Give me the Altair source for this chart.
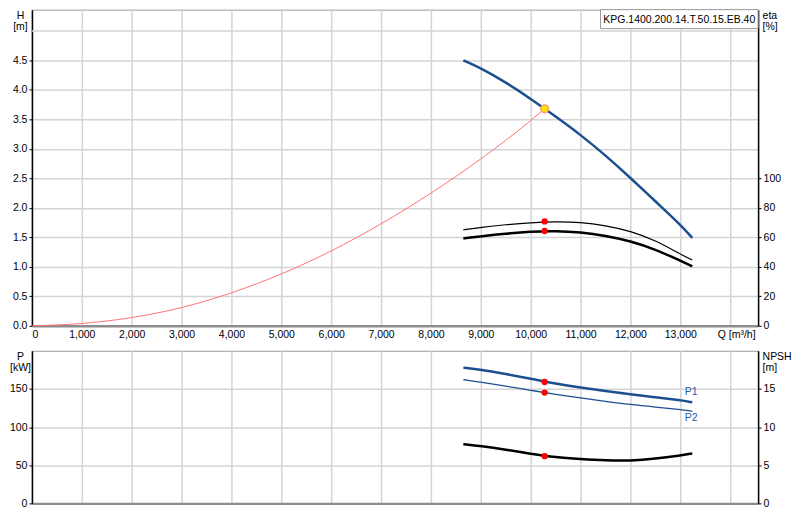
import altair as alt
import pandas as pd

# ---------------- data ----------------
Q_PUMP = [8650, 9000, 9500, 10000, 10500, 11000, 11500, 12000, 12500, 13000, 13240]
H_PUMP = [4.50, 4.37, 4.13, 3.85, 3.55, 3.24, 2.89, 2.51, 2.11, 1.72, 1.49]
ETA_1 = [65.1, 66.8, 68.6, 70.0, 70.7, 70.3, 68.0, 64.3, 58.0, 48.6, 44.6]
ETA_2 = [59.3, 60.7, 62.5, 63.9, 64.3, 63.5, 61.2, 57.5, 51.9, 44.2, 40.4]
P1 = [177.9, 175.3, 169.5, 163.5, 156.8, 151.7, 147.3, 143.0, 139.1, 135.1, 132.5]
P2 = [162.2, 159.0, 153.6, 148.2, 142.8, 138.2, 133.7, 129.5, 126.2, 123.0, 120.7]
NPSH = [7.76, 7.52, 7.05, 6.50, 6.02, 5.80, 5.62, 5.58, 5.84, 6.28, 6.54]

Q_SYS = [0, 1000, 2000, 3000, 4000, 5000, 6000, 7000, 8000, 9000, 10000, 10280]
H_SYS = [0.0, 0.04, 0.14, 0.31, 0.56, 0.88, 1.27, 1.73, 2.25, 2.83, 3.48, 3.68]

Q_DUTY = 10280
H_DUTY = 3.68
ETA_DUTY = [70.8, 64.3]
P_DUTY = [159.1, 145.2]
NPSH_DUTY = 6.19

Q_TICKS = list(range(0, 14001, 1000))
H_TICKS = [0.0, 0.5, 1.0, 1.5, 2.0, 2.5, 3.0, 3.5, 4.0, 4.5]
H_EXTRA_GRID = [5.0]
ETA_TICKS = [0, 20, 40, 60, 80, 100]
P_TICKS = [0, 50, 100, 150]
NPSH_TICKS = [0, 5, 10, 15]

MODEL = "KPG.1400.200.14.T.50.15.EB.40"
CURVE_LABELS = ["P1", "P2"]
Q_LABEL = "Q [m³/h]"

# ---------------- styling ----------------
FONT = "Liberation Sans"
FS = 10.5
BLUE = "#1b4f8f"
LBL_BLUE = "#1f5ca6"
GRID = "#d4d4d4"
W, H_TOP, H_BOT = 728, 317, 153
X_DOMAIN = [0, 14560]
H_MAX = H_TOP / 59.13
ETA_MAX = H_TOP / 1.4783
INTERP = "basis"

df_h = pd.DataFrame({"Q": Q_PUMP, "H": H_PUMP})
df_sys = pd.DataFrame({"Q": Q_SYS, "H": H_SYS})
df_hgrid = pd.DataFrame({"H": H_EXTRA_GRID})
df_hduty = pd.DataFrame({"Q": [Q_DUTY], "H": [H_DUTY]})
df_eta1 = pd.DataFrame({"Q": Q_PUMP, "eta": ETA_1})
df_eta2 = pd.DataFrame({"Q": Q_PUMP, "eta": ETA_2})
df_etaduty = pd.DataFrame({"Q": [Q_DUTY, Q_DUTY], "eta": ETA_DUTY})
df_p1 = pd.DataFrame({"Q": Q_PUMP, "P": P1})
df_p2 = pd.DataFrame({"Q": Q_PUMP, "P": P2})
df_pduty = pd.DataFrame({"Q": [Q_DUTY, Q_DUTY], "P": P_DUTY})
df_p1lbl = pd.DataFrame({"Q": [Q_PUMP[-1]], "P": [P1[-1]], "label": [CURVE_LABELS[0]]})
df_p2lbl = pd.DataFrame({"Q": [Q_PUMP[-1]], "P": [P2[-1]], "label": [CURVE_LABELS[1]]})
df_npsh = pd.DataFrame({"Q": Q_PUMP, "N": NPSH})
df_nduty = pd.DataFrame({"Q": [Q_DUTY], "N": [NPSH_DUTY]})
df_model = pd.DataFrame({"t": [MODEL]})

LABEL_EXPR = "datum.value == 14000 ? '" + Q_LABEL + "' : format(datum.value, ',d')"
LABEL_OFFSET = {"condition": {"test": "datum.value == 14000", "value": 6}, "value": 0}


def x_enc(labels):
    return alt.X(
        "Q:Q",
        scale=alt.Scale(domain=X_DOMAIN, nice=False, zero=False),
        axis=alt.Axis(
            values=Q_TICKS, title=None, grid=True, gridColor=GRID, gridWidth=1.5,
            domainColor="#8c8c8c", domainWidth=2.5, ticks=False, labels=labels,
            labelExpr=LABEL_EXPR, labelOffset=LABEL_OFFSET, labelPadding=4,
        ),
    )


def y_axis(orient, values, fmt, title, grid, title_x, align):
    return alt.Axis(
        orient=orient, values=values, format=fmt, grid=grid, gridColor=GRID, gridWidth=1.5,
        domainColor="black", domainWidth=1.5, tickColor="black", tickSize=3,
        labelPadding=2, title=title, titleAngle=0, titleAlign=align,
        titleBaseline="top", titleX=title_x, titleY=1, titleLineHeight=11,
    )


# ---------------- top panel ----------------
yH = alt.Y("H:Q", scale=alt.Scale(domain=[0, H_MAX], nice=False),
           axis=y_axis("left", H_TICKS, ".1f", ["H", "[m]"], True, -12, "center"))
yE = alt.Y("eta:Q", scale=alt.Scale(domain=[0, ETA_MAX], nice=False),
           axis=y_axis("right", ETA_TICKS, "d", ["eta", "[%]"], False, 4, "left"))

grid5 = alt.Chart(df_hgrid).mark_rule(color=GRID, strokeWidth=1.5).encode(y=yH)
sys_line = alt.Chart(df_sys).mark_line(color="#ff7373", strokeWidth=1, interpolate="monotone").encode(x=x_enc(True), y=yH)
h_line = alt.Chart(df_h).mark_line(color=BLUE, strokeWidth=2.5, interpolate=INTERP).encode(x=x_enc(True), y=yH)
h_duty = alt.Chart(df_hduty).mark_point(filled=True, fill="#ffe800", stroke="#ff9a6a", strokeWidth=1.5,
                                         size=60, opacity=1, shape="circle").encode(x=x_enc(True), y=yH)
left_top = alt.layer(grid5, sys_line, h_line, h_duty)

eta1_line = alt.Chart(df_eta1).mark_line(color="black", strokeWidth=1.2, interpolate=INTERP).encode(x=x_enc(True), y=yE)
eta2_line = alt.Chart(df_eta2).mark_line(color="black", strokeWidth=2.5, interpolate=INTERP).encode(x=x_enc(True), y=yE)
eta_duty = alt.Chart(df_etaduty).mark_circle(color="#ff0000", size=40, opacity=1).encode(x=x_enc(True), y=yE)
right_top = alt.layer(eta1_line, eta2_line, eta_duty)

box = alt.Chart(df_model).mark_rect(fill="white", stroke="#9a9a9a", strokeWidth=1).encode(
    x=alt.value(570), x2=alt.value(W), y=alt.value(0), y2=alt.value(19))
box_txt = alt.Chart(df_model).mark_text(font=FONT, fontSize=FS, color="black", align="center",
                                        baseline="middle").encode(
    x=alt.value(649), y=alt.value(10), text="t:N")

top = alt.layer(left_top, right_top, box, box_txt).resolve_scale(y="independent").properties(
    width=W, height=H_TOP)

# ---------------- bottom panel ----------------
yP = alt.Y("P:Q", scale=alt.Scale(domain=[0, 200], nice=False),
           axis=y_axis("left", P_TICKS, "d", ["P", "[kW]"], True, -12, "center"))
yN = alt.Y("N:Q", scale=alt.Scale(domain=[0, 20], nice=False),
           axis=y_axis("right", NPSH_TICKS, "d", ["NPSH", "[m]"], False, 4, "left"))

p1_line = alt.Chart(df_p1).mark_line(color=BLUE, strokeWidth=2.5, interpolate=INTERP).encode(x=x_enc(False), y=yP)
p2_line = alt.Chart(df_p2).mark_line(color=BLUE, strokeWidth=1.3, interpolate=INTERP).encode(x=x_enc(False), y=yP)
p_duty = alt.Chart(df_pduty).mark_circle(color="#ff0000", size=40, opacity=1).encode(x=x_enc(False), y=yP)
p1_lbl = alt.Chart(df_p1lbl).mark_text(font=FONT, fontSize=FS, color=LBL_BLUE, dy=-10, dx=-1).encode(
    x=x_enc(False), y=yP, text="label:N")
p2_lbl = alt.Chart(df_p2lbl).mark_text(font=FONT, fontSize=FS, color=LBL_BLUE, dy=7, dx=-1).encode(
    x=x_enc(False), y=yP, text="label:N")
left_bot = alt.layer(p1_line, p2_line, p_duty, p1_lbl, p2_lbl)

n_line = alt.Chart(df_npsh).mark_line(color="black", strokeWidth=2.5, interpolate=INTERP).encode(x=x_enc(False), y=yN)
n_duty = alt.Chart(df_nduty).mark_circle(color="#ff0000", size=40, opacity=1).encode(x=x_enc(False), y=yN)
right_bot = alt.layer(n_line, n_duty)

bottom = alt.layer(left_bot, right_bot).resolve_scale(y="independent").properties(width=W, height=H_BOT)

chart = alt.vconcat(top, bottom, spacing=25, bounds="flush").properties(padding=0).configure_view(
    stroke="#9a9a9a", strokeWidth=1
).configure_axis(
    labelFont=FONT, labelFontSize=FS, titleFont=FONT, titleFontSize=FS,
    titleFontWeight="normal", labelColor="black", titleColor="black",
)

chart.save("out.html", embed_options={"renderer": "svg", "actions": False})
